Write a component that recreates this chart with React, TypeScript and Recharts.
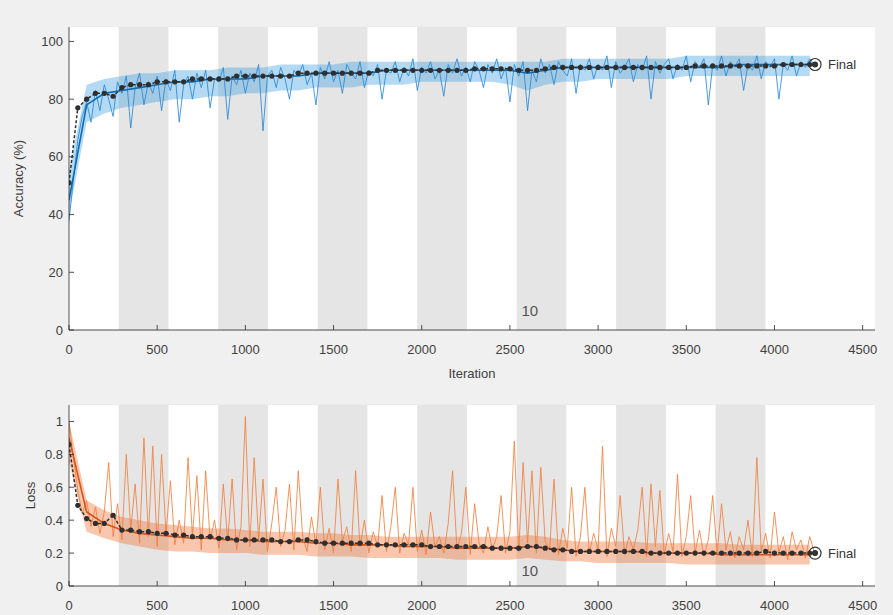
import React from "react";
import {
  ComposedChart,
  Line,
  Area,
  XAxis,
  YAxis,
  CartesianGrid,
  ReferenceArea,
  ReferenceDot,
} from "recharts";

// sampling of the logged values
const RAW_STEP = 25;
const SMOOTH_STEP = 100;
const VAL_STEP = 50;
const FINAL_ITER = 4230;
const ITERS_PER_EPOCH = 282;
const shadedEpochs = [2, 4, 6, 8, 10, 12, 14];
const labelledEpoch = { text: "10", iter: 2613 };

const xTicks = [0, 500, 1000, 1500, 2000, 2500, 3000, 3500, 4000, 4500];
const accTicks = [0, 20, 40, 60, 80, 100];
const lossTicks = [0, 0.2, 0.4, 0.6, 0.8, 1];

// training accuracy, one value every 25 iterations
const accRaw = [
  38, 52, 66, 74, 79, 72, 83, 76, 85, 80,
  74, 86, 82, 88, 70, 84, 89, 78, 86, 82,
  88, 76, 87, 83, 90, 72, 85, 88, 80, 89,
  84, 90, 77, 87, 86, 91, 73, 88, 85, 90,
  82, 89, 86, 92, 69, 88, 90, 84, 91, 87,
  80, 90, 88, 92, 85, 89, 78, 91, 87, 93,
  86, 90, 82, 92, 89, 87, 93, 84, 90, 88,
  92, 80, 90, 89, 93, 86, 91, 88, 94, 83,
  91, 89, 93, 87, 90, 81, 92, 89, 94, 88,
  91, 86, 93, 90, 84, 92, 89, 94, 87, 91,
  79, 92, 88, 93, 76, 90, 86, 94, 89, 92,
  85, 93, 90, 88, 94, 82, 92, 90, 94, 87,
  92, 90, 95, 84, 93, 89, 91, 94, 86, 92,
  90, 95, 80, 93, 89, 92, 94, 87, 92, 90,
  95, 86, 93, 91, 94, 78, 92, 90, 95, 88,
  93, 91, 94, 83, 92, 90, 95, 87, 93, 91,
  94, 80, 92, 90, 95, 88, 93, 91, 94, 92,
];

// dense part of the raw accuracy trace, every 100 iterations
const accLow = [
  40, 72, 75, 77, 78, 79, 80, 80, 81, 81,
  82, 82, 83, 83, 84, 84, 84, 85, 85, 85,
  86, 86, 86, 86, 86, 85, 83, 85, 86, 86,
  87, 87, 87, 87, 87, 88, 88, 88, 88, 88,
  88, 88, 88,
];
const accHigh = [
  55, 85, 87, 88, 89, 89, 90, 90, 90, 91,
  91, 91, 92, 92, 92, 92, 93, 93, 93, 93,
  93, 93, 93, 93, 93, 93, 93, 93, 94, 94,
  94, 94, 94, 94, 94, 95, 95, 95, 95, 95,
  95, 95, 95,
];

// smoothed training accuracy, every 100 iterations
const accSmooth = [
  45, 78, 82, 83, 84, 85, 86, 86, 87, 87,
  87, 88, 88, 88, 89, 89, 89, 89, 90, 90,
  90, 90, 90, 90, 90, 90, 89, 90, 91, 91,
  91, 91, 91, 91, 91, 91, 91, 91, 92, 92,
  92, 92, 92,
];

// validation accuracy, every 50 iterations
const accVal = [
  51, 77, 80, 82, 82, 81, 84, 85, 85, 85,
  86, 86, 86, 86, 87, 87, 87, 87, 87, 88,
  88, 88, 88, 88, 88, 88, 89, 89, 89, 89,
  89, 89, 89, 89, 89, 90, 90, 90, 90, 90,
  90, 90, 90, 90, 90, 90, 90.5, 90.5, 90.5, 90.5,
  90.5, 90, 90, 90, 90.5, 91, 91, 91, 91, 91,
  91, 91, 91, 91, 91, 91, 91, 91, 91, 91,
  91, 91.5, 91.5, 91.5, 91.5, 91.5, 91.5, 91.5, 91.5, 91.5,
  91.5, 92, 92, 92, 92,
];
const accFinal = 92;

// training loss, every 25 iterations
const lossRaw = [
  1.0, 0.78, 0.58, 0.44, 0.52, 0.36, 0.48, 0.32, 0.45, 0.75,
  0.3, 0.5, 0.28, 0.8, 0.34, 0.62, 0.26, 0.9, 0.3, 0.85,
  0.24, 0.8, 0.32, 0.64, 0.25, 0.4, 0.26, 0.78, 0.3, 0.67,
  0.22, 0.7, 0.28, 0.4, 0.23, 0.62, 0.27, 0.65, 0.22, 0.36,
  1.03, 0.24, 0.78, 0.28, 0.65, 0.21, 0.38, 0.6, 0.24, 0.34,
  0.62, 0.22, 0.7, 0.3, 0.21, 0.42, 0.25, 0.6, 0.22, 0.35,
  0.2, 0.65, 0.27, 0.36, 0.21, 0.7, 0.24, 0.4, 0.2, 0.33,
  0.24, 0.55, 0.21, 0.36, 0.6, 0.2, 0.32, 0.25, 0.6, 0.21,
  0.34, 0.19, 0.45, 0.24, 0.3, 0.2, 0.38, 0.7, 0.22, 0.32,
  0.6, 0.19, 0.5, 0.26, 0.2, 0.36, 0.22, 0.3, 0.55, 0.2,
  0.33, 0.88, 0.21, 0.75, 0.26, 0.7, 0.2, 0.72, 0.27, 0.22,
  0.65, 0.19, 0.35, 0.23, 0.6, 0.18, 0.3, 0.6, 0.2, 0.32,
  0.22, 0.85, 0.18, 0.35, 0.24, 0.55, 0.19, 0.3, 0.22, 0.34,
  0.6, 0.18, 0.62, 0.24, 0.58, 0.19, 0.32, 0.21, 0.68, 0.18,
  0.3, 0.55, 0.2, 0.34, 0.18, 0.28, 0.55, 0.19, 0.5, 0.22,
  0.33, 0.17, 0.3, 0.22, 0.4, 0.18, 0.78, 0.21, 0.32, 0.17,
  0.45, 0.2, 0.3, 0.16, 0.33, 0.22, 0.28, 0.17, 0.3, 0.21,
];

// dense part of the raw loss trace, every 100 iterations
const lossLow = [
  0.75, 0.33, 0.29, 0.26, 0.24, 0.22, 0.21, 0.21, 0.2, 0.2,
  0.2, 0.19, 0.19, 0.19, 0.18, 0.18, 0.18, 0.17, 0.17, 0.17,
  0.17, 0.17, 0.16, 0.16, 0.16, 0.16, 0.17, 0.16, 0.15, 0.15,
  0.14, 0.14, 0.14, 0.14, 0.14, 0.13, 0.13, 0.13, 0.13, 0.13,
  0.13, 0.13, 0.13,
];
const lossHigh = [
  1.0, 0.52, 0.46, 0.42, 0.4, 0.38, 0.37, 0.36, 0.35, 0.35,
  0.34, 0.33, 0.33, 0.33, 0.32, 0.32, 0.31, 0.31, 0.3, 0.3,
  0.3, 0.3, 0.3, 0.3, 0.3, 0.3, 0.31, 0.3, 0.28, 0.27,
  0.27, 0.27, 0.27, 0.26, 0.26, 0.26, 0.26, 0.26, 0.25, 0.25,
  0.25, 0.25, 0.25,
];

const lossSmooth = [
  0.9, 0.45, 0.38, 0.34, 0.32, 0.31, 0.3, 0.29, 0.29, 0.28,
  0.28, 0.27, 0.27, 0.27, 0.26, 0.26, 0.25, 0.25, 0.25, 0.24,
  0.24, 0.24, 0.23, 0.23, 0.23, 0.23, 0.24, 0.23, 0.22, 0.21,
  0.21, 0.21, 0.21, 0.2, 0.2, 0.2, 0.2, 0.19, 0.19, 0.19,
  0.19, 0.19, 0.19,
];

const lossVal = [
  0.86, 0.49, 0.41, 0.38, 0.38, 0.43, 0.34, 0.34, 0.33, 0.33,
  0.32, 0.32, 0.31, 0.31, 0.3, 0.3, 0.3, 0.29, 0.29, 0.28,
  0.28, 0.28, 0.28, 0.28, 0.27, 0.27, 0.28, 0.28, 0.27, 0.26,
  0.26, 0.26, 0.26, 0.26, 0.26, 0.25, 0.25, 0.25, 0.25, 0.25,
  0.25, 0.24, 0.24, 0.24, 0.24, 0.24, 0.24, 0.24, 0.23, 0.23,
  0.23, 0.23, 0.24, 0.24, 0.23, 0.22, 0.22, 0.21, 0.21, 0.21,
  0.21, 0.21, 0.21, 0.21, 0.21, 0.21, 0.2, 0.2, 0.2, 0.2,
  0.2, 0.2, 0.2, 0.2, 0.2, 0.2, 0.2, 0.2, 0.2, 0.21,
  0.2, 0.2, 0.2, 0.2, 0.2,
];
const lossFinal = 0.2;

const toPoints = (vals: number[], step: number) =>
  vals.map((v, i) => ({ it: i * step, v }));

const toBand = (low: number[], high: number[], step: number) =>
  low.map((l, i) => ({ it: i * step, band: [l, high[i]] }));

const FONT = "'Liberation Sans', Arial, sans-serif";
const AXIS = "#262626";
const TEXT = "#404040";
const X_DOMAIN: [number, number] = [0, 4570];

const XTick = ({ x, y, payload }: any) => (
  <g>
    <line x1={x} y1={y} x2={x} y2={y - 5} stroke={AXIS} strokeWidth={0.8} />
    <text x={x} y={y + 24} textAnchor="middle" fontSize={13} fill={TEXT} fontFamily={FONT}>
      {payload.value}
    </text>
  </g>
);

const YTick = ({ x, y, payload }: any) => (
  <g>
    <line x1={x} y1={y} x2={x + 5} y2={y} stroke={AXIS} strokeWidth={0.8} />
    <text x={x - 6} y={y + 4.5} textAnchor="end" fontSize={13} fill={TEXT} fontFamily={FONT}>
      {payload.value}
    </text>
  </g>
);

const FinalMark = ({ cx, cy }: any) => (
  <g>
    <circle cx={cx} cy={cy} r={6} fill="none" stroke="#333" strokeWidth={1.2} />
    <circle cx={cx} cy={cy} r={3} fill="#333" />
    <text x={cx + 13} y={cy + 4.5} fontSize={13} fill="#333" fontFamily={FONT}>
      Final
    </text>
  </g>
);

const EpochText = ({ cx, cy }: any) => (
  <text x={cx} y={cy} textAnchor="middle" fontSize={15} fill="#555" fontFamily={FONT}>
    {labelledEpoch.text}
  </text>
);

type PanelProps = {
  height: number;
  top: number;
  bottom: number;
  axisHeight: number;
  yDomain: [number, number];
  yTicks: number[];
  yLabel: string;
  yLabelOffset: number;
  xLabel?: string;
  raw: number[];
  low: number[];
  high: number[];
  smooth: number[];
  val: number[];
  final: number;
  rawColor: string;
  bandColor: string;
  smoothColor: string;
  epochY: number;
};

const Panel = (p: PanelProps) => {
  const rawPts = toPoints(p.raw, RAW_STEP);
  const bandPts = toBand(p.low, p.high, SMOOTH_STEP);
  const smoothPts = toPoints(p.smooth, SMOOTH_STEP);
  const valPts = [...toPoints(p.val, VAL_STEP), { it: FINAL_ITER, v: p.final }];
  return (
    <ComposedChart
      width={893}
      height={p.height}
      margin={{ top: p.top, right: 18, left: 9, bottom: p.bottom }}
    >
      <ReferenceArea
        x1={X_DOMAIN[0]}
        x2={X_DOMAIN[1]}
        y1={p.yDomain[0]}
        y2={p.yDomain[1]}
        fill="#ffffff"
        fillOpacity={1}
        stroke="none"
      />
      {shadedEpochs.map((e) => (
        <ReferenceArea
          key={e}
          x1={(e - 1) * ITERS_PER_EPOCH}
          x2={e * ITERS_PER_EPOCH}
          fill="#e5e5e5"
          fillOpacity={1}
          stroke="none"
        />
      ))}
      <CartesianGrid vertical={false} stroke="#e4e4e4" strokeWidth={0.8} />
      <XAxis
        type="number"
        dataKey="it"
        domain={X_DOMAIN}
        ticks={xTicks}
        allowDataOverflow
        tickSize={0}
        tickMargin={0}
        tickLine={false}
        tick={<XTick />}
        height={p.axisHeight}
        axisLine={{ stroke: AXIS, strokeWidth: 0.8 }}
        label={
          p.xLabel
            ? { value: p.xLabel, position: "insideBottom", offset: 0, fontSize: 13, fill: TEXT, fontFamily: FONT }
            : undefined
        }
      />
      <YAxis
        type="number"
        domain={p.yDomain}
        ticks={p.yTicks}
        allowDataOverflow
        width={60}
        tickSize={0}
        tickMargin={0}
        tickLine={false}
        tick={<YTick />}
        axisLine={{ stroke: AXIS, strokeWidth: 0.8 }}
        label={{
          value: p.yLabel,
          angle: -90,
          position: "insideLeft",
          offset: p.yLabelOffset,
          fontSize: 13,
          fill: TEXT,
          fontFamily: FONT,
          style: { textAnchor: "middle" },
        }}
      />
      <Area
        data={bandPts}
        dataKey="band"
        type="linear"
        fill={p.bandColor}
        fillOpacity={0.38}
        stroke="none"
        isAnimationActive={false}
      />
      <Line
        data={rawPts}
        dataKey="v"
        type="linear"
        stroke={p.rawColor}
        strokeWidth={1}
        strokeOpacity={0.85}
        dot={false}
        isAnimationActive={false}
      />
      <Line
        data={smoothPts}
        dataKey="v"
        type="linear"
        stroke={p.smoothColor}
        strokeWidth={1.6}
        dot={false}
        isAnimationActive={false}
      />
      <Line
        data={valPts}
        dataKey="v"
        type="linear"
        stroke="#2e2e2e"
        strokeWidth={1.5}
        strokeDasharray="3 2"
        dot={{ r: 2.6, fill: "#2e2e2e", stroke: "none" }}
        isAnimationActive={false}
      />
      <ReferenceDot x={labelledEpoch.iter} y={p.epochY} r={0} shape={<EpochText />} />
      <ReferenceDot x={FINAL_ITER} y={p.final} r={6} shape={<FinalMark />} />
    </ComposedChart>
  );
};

export default function App() {
  return (
    <div
      style={{
        position: "absolute",
        left: 0,
        top: 0,
        width: 893,
        height: 615,
        background: "#f0f0f0",
        fontFamily: FONT,
      }}
    >
      <div style={{ position: "absolute", left: 0, top: 0 }}>
        <Panel
          height={380}
          top={27}
          bottom={2}
          axisHeight={48}
          yDomain={[0, 105]}
          yTicks={accTicks}
          yLabel="Accuracy (%)"
          yLabelOffset={9}
          xLabel="Iteration"
          raw={accRaw}
          low={accLow}
          high={accHigh}
          smooth={accSmooth}
          val={accVal}
          final={accFinal}
          rawColor="#2a8ad6"
          bandColor="#3a9be0"
          smoothColor="#0b6cb3"
          epochY={5}
        />
      </div>
      <div style={{ position: "absolute", left: 0, top: 380 }}>
        <Panel
          height={235}
          top={25}
          bottom={0}
          axisHeight={29}
          yDomain={[0, 1.1]}
          yTicks={lossTicks}
          yLabel="Loss"
          yLabelOffset={21}
          raw={lossRaw}
          low={lossLow}
          high={lossHigh}
          smooth={lossSmooth}
          val={lossVal}
          final={lossFinal}
          rawColor="#f08040"
          bandColor="#ee6a2a"
          smoothColor="#d95319"
          epochY={0.06}
        />
      </div>
    </div>
  );
}
